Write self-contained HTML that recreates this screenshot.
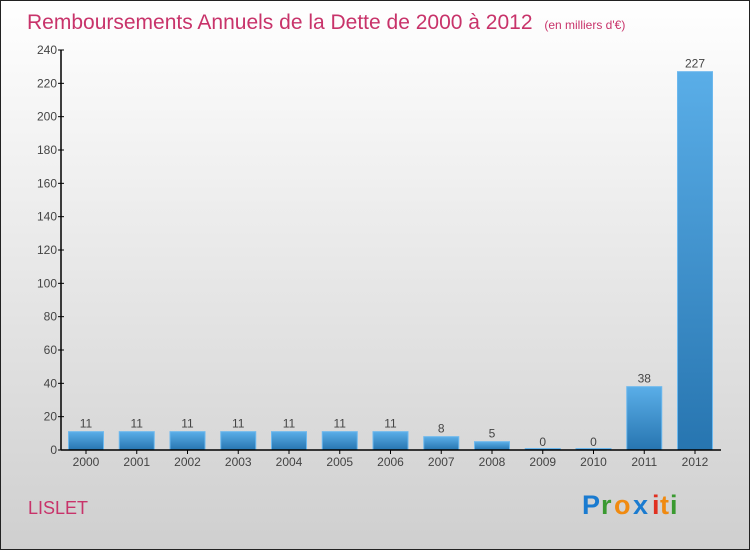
<!DOCTYPE html>
<html><head><meta charset="utf-8"><style>
html,body{margin:0;padding:0}
body{width:750px;height:550px;overflow:hidden;font-family:"Liberation Sans",sans-serif}
</style></head><body>
<svg id="c" width="750" height="550" xmlns="http://www.w3.org/2000/svg">
<defs>
<linearGradient id="bg" x1="0" y1="0" x2="0" y2="1"><stop offset="0" stop-color="#ffffff"/><stop offset="1" stop-color="#cfcfcf"/></linearGradient>
<linearGradient id="bar" x1="0" y1="0" x2="0" y2="1"><stop offset="0" stop-color="#5aaee8"/><stop offset="1" stop-color="#2775b0"/></linearGradient>
</defs>
<rect x="0.5" y="0.5" width="749" height="549" fill="url(#bg)" stroke="#222"/>
<text x="27" y="29" font-size="21" fill="#c8336a">Remboursements Annuels de la Dette de 2000 à 2012 <tspan font-size="12" dx="6">(en milliers d'€)</tspan></text>
<text x="28" y="514" font-size="18" fill="#c8336a">LISLET</text>
<g font-size="27" font-weight="bold">
<text x="582" y="514" fill="#1a7bd0">P</text><text x="601" y="514" fill="#3a9a30">r</text><text x="614" y="514" fill="#f08a10">o</text><text x="633" y="514" fill="#1a7bd0">x</text><text x="652" y="514" fill="#e03020">i</text><text x="660" y="514" fill="#f08a10">t</text><text x="670" y="514" fill="#3a9a30">i</text>
</g>
<g id="plot"></g>
</svg>
<script>
const categories=["2000","2001","2002","2003","2004","2005","2006","2007","2008","2009","2010","2011","2012"];
const values=[11,11,11,11,11,11,11,8,5,0,0,38,227];
const yTicks=[0,20,40,60,80,100,120,140,160,180,200,220,240];
const NS="http://www.w3.org/2000/svg";
const g=document.getElementById('plot');
const y0=450,pxPer=400/240,x0=86,step=50.75,bw=35;
const ys=v=>y0-v*pxPer, xs=i=>x0+i*step;
function el(t,a,txt){const e=document.createElementNS(NS,t);for(const k in a)e.setAttribute(k,a[k]);if(txt!==undefined)e.textContent=txt;g.appendChild(e);return e;}
values.forEach((v,i)=>{
 const h=Math.max(v*pxPer,1.5);
 const r=el('rect',{x:xs(i)-bw/2,y:y0-h,width:bw,height:h,fill:'url(#bar)',stroke:'#6cb8ee','stroke-width':1});
 
 
 const t=el('text',{x:xs(i),y:ys(v)-4,'font-size':12,fill:'#444','text-anchor':'middle'},String(v));
 
 
 const c=el('text',{x:xs(i),y:466,'font-size':12,fill:'#444','text-anchor':'middle'},categories[i]);
 
 
 el('line',{x1:xs(i),x2:xs(i),y1:y0,y2:y0+4,stroke:'#000'});
});
yTicks.forEach(v=>{
 el('line',{x1:58,x2:64,y1:ys(v),y2:ys(v),stroke:'#000'});
 const t=el('text',{x:57,y:ys(v)+4,'font-size':12,fill:'#444','text-anchor':'end'},String(v));
 
 
});
const ya=el('line',{x1:61,x2:61,y1:50,y2:450,stroke:'#000','stroke-width':1.5});


const xa=el('line',{x1:61,x2:721,y1:450,y2:450,stroke:'#000','stroke-width':1.5});


</script>
</body></html>
